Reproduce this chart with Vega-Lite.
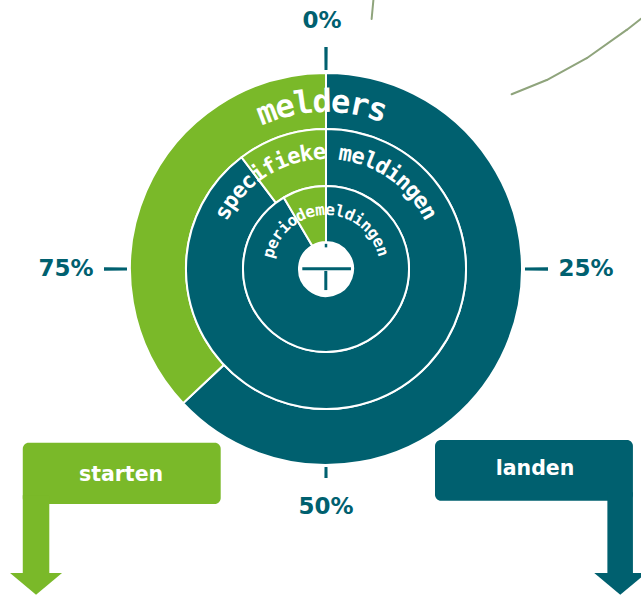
{
  "$schema": "https://vega.github.io/schema/vega-lite/v6.json",
  "width": 630,
  "height": 538,
  "autosize": "none",
  "padding": {"left": 11, "top": 0, "right": 0, "bottom": 57},
  "background": "white",
  "config": {"view": {"stroke": null}},
  "datasets": {
    "rings": [
      {"ring": "melders", "status": "landen", "share": 63},
      {"ring": "melders", "status": "starten", "share": 37},
      {"ring": "specifieke meldingen", "status": "landen", "share": 89.7},
      {"ring": "specifieke meldingen", "status": "starten", "share": 10.3},
      {"ring": "periodemeldingen", "status": "landen", "share": 91.5},
      {"ring": "periodemeldingen", "status": "starten", "share": 8.5}
    ],
    "ticks": [
      {"pct": 0, "label": "0%"},
      {"pct": 25, "label": "25%"},
      {"pct": 50, "label": "50%"},
      {"pct": 75, "label": "75%"}
    ],
    "outerLabel": [
      {"i": 0, "ch": "m"}, {"i": 1, "ch": "e"}, {"i": 2, "ch": "l"}, {"i": 3, "ch": "d"},
      {"i": 4, "ch": "e"}, {"i": 5, "ch": "r"}, {"i": 6, "ch": "s"}
    ],
    "middleLabel": [
      {"i": 0, "ch": "s"}, {"i": 1, "ch": "p"}, {"i": 2, "ch": "e"}, {"i": 3, "ch": "c"},
      {"i": 4, "ch": "i"}, {"i": 5, "ch": "f"}, {"i": 6, "ch": "i"}, {"i": 7, "ch": "e"},
      {"i": 8, "ch": "k"}, {"i": 9, "ch": "e"},
      {"i": 11, "ch": "m"}, {"i": 12, "ch": "e"}, {"i": 13, "ch": "l"}, {"i": 14, "ch": "d"},
      {"i": 15, "ch": "i"}, {"i": 16, "ch": "n"}, {"i": 17, "ch": "g"}, {"i": 18, "ch": "e"},
      {"i": 19, "ch": "n"}
    ],
    "innerLabel": [
      {"i": 0, "ch": "p"}, {"i": 1, "ch": "e"}, {"i": 2, "ch": "r"}, {"i": 3, "ch": "i"},
      {"i": 4, "ch": "o"}, {"i": 5, "ch": "d"}, {"i": 6, "ch": "e"}, {"i": 7, "ch": "m"},
      {"i": 8, "ch": "e"}, {"i": 9, "ch": "l"}, {"i": 10, "ch": "d"}, {"i": 11, "ch": "i"},
      {"i": 12, "ch": "n"}, {"i": 13, "ch": "g"}, {"i": 14, "ch": "e"}, {"i": 15, "ch": "n"}
    ]
  },
  "resolve": {"scale": {"theta": "independent", "angle": "independent"}},
  "layer": [
    {
      "data": {"values": [{"d": 1}]},
      "mark": {"type": "rule", "color": "#8FA47C", "strokeWidth": 2, "strokeCap": "round"},
      "encoding": {
        "x": {"datum": 24.3, "type": "quantitative", "scale": {"domain": [-161.538, 161.538], "nice": false, "zero": false}, "axis": null},
        "y": {"datum": 137.9, "type": "quantitative", "scale": {"domain": [-137.949, 137.949], "nice": false, "zero": false}, "axis": null},
        "x2": {"datum": 23.4},
        "y2": {"datum": 128.2}
      }
    },
    {
      "data": {"values": [{"d": 1}]},
      "mark": {"type": "rule", "color": "#8FA47C", "strokeWidth": 2, "strokeCap": "round"},
      "encoding": {
        "x": {"datum": 95.2, "type": "quantitative", "scale": {"domain": [-161.538, 161.538], "nice": false, "zero": false}, "axis": null},
        "y": {"datum": 89.6, "type": "quantitative", "scale": {"domain": [-137.949, 137.949], "nice": false, "zero": false}, "axis": null},
        "x2": {"datum": 113.2},
        "y2": {"datum": 96.9}
      }
    },
    {
      "data": {"values": [{"d": 1}]},
      "mark": {"type": "rule", "color": "#8FA47C", "strokeWidth": 2, "strokeCap": "round"},
      "encoding": {
        "x": {"datum": 113.2, "type": "quantitative", "scale": {"domain": [-161.538, 161.538], "nice": false, "zero": false}, "axis": null},
        "y": {"datum": 96.9, "type": "quantitative", "scale": {"domain": [-137.949, 137.949], "nice": false, "zero": false}, "axis": null},
        "x2": {"datum": 133.7},
        "y2": {"datum": 108.1}
      }
    },
    {
      "data": {"values": [{"d": 1}]},
      "mark": {"type": "rule", "color": "#8FA47C", "strokeWidth": 2, "strokeCap": "round"},
      "encoding": {
        "x": {"datum": 133.7, "type": "quantitative", "scale": {"domain": [-161.538, 161.538], "nice": false, "zero": false}, "axis": null},
        "y": {"datum": 108.1, "type": "quantitative", "scale": {"domain": [-137.949, 137.949], "nice": false, "zero": false}, "axis": null},
        "x2": {"datum": 154.2},
        "y2": {"datum": 122.6}
      }
    },
    {
      "data": {"values": [{"d": 1}]},
      "mark": {"type": "rule", "color": "#8FA47C", "strokeWidth": 2, "strokeCap": "round"},
      "encoding": {
        "x": {"datum": 154.2, "type": "quantitative", "scale": {"domain": [-161.538, 161.538], "nice": false, "zero": false}, "axis": null},
        "y": {"datum": 122.6, "type": "quantitative", "scale": {"domain": [-137.949, 137.949], "nice": false, "zero": false}, "axis": null},
        "x2": {"datum": 163},
        "y2": {"datum": 129.5}
      }
    },
    {
      "data": {"name": "rings"},
      "transform": [{"filter": "datum.ring === 'melders'"}],
      "mark": {"type": "arc", "radius": 196, "radius2": 140, "stroke": "white", "strokeWidth": 2},
      "encoding": {
        "theta": {"field": "share", "type": "quantitative", "stack": true, "scale": {"domain": [0, 100]}},
        "order": {"field": "status", "sort": "ascending"},
        "color": {"field": "status", "type": "nominal", "scale": {"domain": ["landen", "starten"], "range": ["#00606F", "#7AB929"]}, "legend": null}
      }
    },
    {
      "data": {"name": "rings"},
      "transform": [{"filter": "datum.ring === 'specifieke meldingen'"}],
      "mark": {"type": "arc", "radius": 140, "radius2": 83, "stroke": "white", "strokeWidth": 2},
      "encoding": {
        "theta": {"field": "share", "type": "quantitative", "stack": true, "scale": {"domain": [0, 100]}},
        "order": {"field": "status", "sort": "ascending"},
        "color": {"field": "status", "type": "nominal", "scale": {"domain": ["landen", "starten"], "range": ["#00606F", "#7AB929"]}, "legend": null}
      }
    },
    {
      "data": {"name": "rings"},
      "transform": [{"filter": "datum.ring === 'periodemeldingen'"}],
      "mark": {"type": "arc", "radius": 83, "radius2": 27, "stroke": "white", "strokeWidth": 2},
      "encoding": {
        "theta": {"field": "share", "type": "quantitative", "stack": true, "scale": {"domain": [0, 100]}},
        "order": {"field": "status", "sort": "ascending"},
        "color": {"field": "status", "type": "nominal", "scale": {"domain": ["landen", "starten"], "range": ["#00606F", "#7AB929"]}, "legend": null}
      }
    },
    {
      "data": {"name": "ticks"},
      "transform": [{"filter": "datum.pct != 50"}],
      "mark": {"type": "arc", "radius": 222, "radius2": 199, "thetaOffset": -0.0075, "theta2Offset": 0.0075, "color": "#00606F"},
      "encoding": {
        "theta": {"field": "pct", "type": "quantitative", "stack": null, "scale": {"domain": [0, 100]}},
        "theta2": {"field": "pct"}
      }
    },
    {
      "data": {"name": "ticks"},
      "transform": [{"filter": "datum.pct == 50"}],
      "mark": {"type": "arc", "radius": 209, "radius2": 198, "thetaOffset": -0.0075, "theta2Offset": 0.0075, "color": "#00606F"},
      "encoding": {
        "theta": {"field": "pct", "type": "quantitative", "stack": null, "scale": {"domain": [0, 100]}},
        "theta2": {"field": "pct"}
      }
    },
    {
      "data": {"values": [{"d": 1}]},
      "mark": {"type": "rule", "color": "#00606F", "strokeWidth": 3},
      "encoding": {
        "x": {"datum": -12.15, "type": "quantitative", "scale": {"domain": [-161.538, 161.538], "nice": false, "zero": false}, "axis": null},
        "y": {"datum": 0.1, "type": "quantitative", "scale": {"domain": [-137.949, 137.949], "nice": false, "zero": false}, "axis": null},
        "x2": {"datum": 12.8}
      }
    },
    {
      "data": {"values": [{"d": 1}]},
      "mark": {"type": "rule", "color": "#00606F", "strokeWidth": 3},
      "encoding": {
        "x": {"datum": -0.1, "type": "quantitative", "scale": {"domain": [-161.538, 161.538], "nice": false, "zero": false}, "axis": null},
        "y": {"datum": -1.0, "type": "quantitative", "scale": {"domain": [-137.949, 137.949], "nice": false, "zero": false}, "axis": null},
        "y2": {"datum": -10.8}
      }
    },
    {
      "data": {"values": [{"d": 1}]},
      "mark": {"type": "rule", "color": "#00606F", "strokeWidth": 2.5},
      "encoding": {
        "x": {"datum": 0, "type": "quantitative", "scale": {"domain": [-161.538, 161.538], "nice": false, "zero": false}, "axis": null},
        "y": {"datum": 12.9, "type": "quantitative", "scale": {"domain": [-137.949, 137.949], "nice": false, "zero": false}, "axis": null},
        "y2": {"datum": 11.1}
      }
    },
    {
      "data": {"name": "ticks"},
      "transform": [{"filter": "datum.pct == 0"}],
      "mark": {"type": "text", "radius": 248, "font": "DejaVu Sans", "fontWeight": "bold", "fontSize": 23, "color": "#00606F", "align": "center", "baseline": "middle", "dx": -4},
      "encoding": {
        "theta": {"field": "pct", "type": "quantitative", "stack": null, "scale": {"domain": [0, 100]}},
        "text": {"field": "label"}
      }
    },
    {
      "data": {"name": "ticks"},
      "transform": [{"filter": "datum.pct == 50"}],
      "mark": {"type": "text", "radius": 238, "font": "DejaVu Sans", "fontWeight": "bold", "fontSize": 23, "color": "#00606F", "align": "center", "baseline": "middle"},
      "encoding": {
        "theta": {"field": "pct", "type": "quantitative", "stack": null, "scale": {"domain": [0, 100]}},
        "text": {"field": "label"}
      }
    },
    {
      "data": {"name": "ticks"},
      "transform": [{"filter": "datum.pct == 25 || datum.pct == 75"}],
      "mark": {"type": "text", "radius": 260, "font": "DejaVu Sans", "fontWeight": "bold", "fontSize": 23, "color": "#00606F", "align": "center", "baseline": "middle"},
      "encoding": {
        "theta": {"field": "pct", "type": "quantitative", "stack": null, "scale": {"domain": [0, 100]}},
        "text": {"field": "label"}
      }
    },
    {
      "data": {"name": "outerLabel"},
      "mark": {"type": "text", "radius": 167, "font": "DejaVu Sans Mono", "fontWeight": "bold", "fontSize": 32, "color": "white", "align": "center", "baseline": "middle"},
      "encoding": {
        "theta": {"field": "i", "type": "quantitative", "stack": null, "scale": {"domain": [0, 6], "range": [-0.3613, 0.3142]}},
        "angle": {"field": "i", "type": "quantitative", "scale": {"domain": [0, 6], "range": [-20.7, 18]}},
        "text": {"field": "ch"}
      }
    },
    {
      "data": {"name": "middleLabel"},
      "mark": {"type": "text", "radius": 117, "font": "DejaVu Sans Mono", "fontWeight": "bold", "fontSize": 22, "color": "white", "align": "center", "baseline": "middle"},
      "encoding": {
        "theta": {"field": "i", "type": "quantitative", "stack": null, "scale": {"domain": [0, 19], "range": [-1.0647, 1.0647]}},
        "angle": {"field": "i", "type": "quantitative", "scale": {"domain": [0, 19], "range": [-61, 61]}},
        "text": {"field": "ch"}
      }
    },
    {
      "data": {"name": "innerLabel"},
      "mark": {"type": "text", "radius": 59, "font": "DejaVu Sans Mono", "fontWeight": "bold", "fontSize": 16, "color": "white", "align": "center", "baseline": "middle"},
      "encoding": {
        "theta": {"field": "i", "type": "quantitative", "stack": null, "scale": {"domain": [0, 15], "range": [-1.2985, 1.2654]}},
        "angle": {"field": "i", "type": "quantitative", "scale": {"domain": [0, 15], "range": [-74.4, 72.5]}},
        "text": {"field": "ch"}
      }
    },
    {
      "data": {"values": [{"status": "starten"}]},
      "mark": {"type": "rect", "cornerRadius": 6},
      "encoding": {
        "x": {"datum": -155.5, "type": "quantitative", "scale": {"domain": [-161.538, 161.538], "nice": false, "zero": false}, "axis": null},
        "x2": {"datum": -54.0},
        "y": {"datum": -89.1, "type": "quantitative", "scale": {"domain": [-137.949, 137.949], "nice": false, "zero": false}, "axis": null},
        "y2": {"datum": -120.5},
        "color": {"field": "status", "type": "nominal", "scale": {"domain": ["landen", "starten"], "range": ["#00606F", "#7AB929"]}, "legend": null}
      }
    },
    {
      "data": {"values": [{"status": "starten"}]},
      "mark": {"type": "rect"},
      "encoding": {
        "x": {"datum": -155.5, "type": "quantitative", "scale": {"domain": [-161.538, 161.538], "nice": false, "zero": false}, "axis": null},
        "x2": {"datum": -141.9},
        "y": {"datum": -116.0, "type": "quantitative", "scale": {"domain": [-137.949, 137.949], "nice": false, "zero": false}, "axis": null},
        "y2": {"datum": -156.5},
        "color": {"field": "status", "type": "nominal", "scale": {"domain": ["landen", "starten"], "range": ["#00606F", "#7AB929"]}, "legend": null}
      }
    },
    {
      "data": {"values": [{"status": "starten"}]},
      "mark": {"type": "point", "shape": "M-1,-0.42L1,-0.42L0,0.42Z", "size": 2704, "filled": true, "opacity": 1, "strokeWidth": 0},
      "encoding": {
        "x": {"datum": -148.7, "type": "quantitative", "scale": {"domain": [-161.538, 161.538], "nice": false, "zero": false}, "axis": null},
        "y": {"datum": -161.5, "type": "quantitative", "scale": {"domain": [-137.949, 137.949], "nice": false, "zero": false}, "axis": null},
        "color": {"field": "status", "type": "nominal", "scale": {"domain": ["landen", "starten"], "range": ["#00606F", "#7AB929"]}, "legend": null}
      }
    },
    {
      "data": {"values": [{"status": "starten"}]},
      "mark": {"type": "text", "font": "DejaVu Sans", "fontWeight": "bold", "fontSize": 20.5, "color": "white", "align": "center", "baseline": "middle"},
      "encoding": {
        "x": {"datum": -105.1, "type": "quantitative", "scale": {"domain": [-161.538, 161.538], "nice": false, "zero": false}, "axis": null},
        "y": {"datum": -105.6, "type": "quantitative", "scale": {"domain": [-137.949, 137.949], "nice": false, "zero": false}, "axis": null},
        "text": {"field": "status"}
      }
    },
    {
      "data": {"values": [{"status": "landen"}]},
      "mark": {"type": "rect", "cornerRadius": 6},
      "encoding": {
        "x": {"datum": 55.9, "type": "quantitative", "scale": {"domain": [-161.538, 161.538], "nice": false, "zero": false}, "axis": null},
        "x2": {"datum": 157.4},
        "y": {"datum": -87.7, "type": "quantitative", "scale": {"domain": [-137.949, 137.949], "nice": false, "zero": false}, "axis": null},
        "y2": {"datum": -118.8},
        "color": {"field": "status", "type": "nominal", "scale": {"domain": ["landen", "starten"], "range": ["#00606F", "#7AB929"]}, "legend": null}
      }
    },
    {
      "data": {"values": [{"status": "landen"}]},
      "mark": {"type": "rect"},
      "encoding": {
        "x": {"datum": 144.3, "type": "quantitative", "scale": {"domain": [-161.538, 161.538], "nice": false, "zero": false}, "axis": null},
        "x2": {"datum": 157.4},
        "y": {"datum": -114.5, "type": "quantitative", "scale": {"domain": [-137.949, 137.949], "nice": false, "zero": false}, "axis": null},
        "y2": {"datum": -156.5},
        "color": {"field": "status", "type": "nominal", "scale": {"domain": ["landen", "starten"], "range": ["#00606F", "#7AB929"]}, "legend": null}
      }
    },
    {
      "data": {"values": [{"status": "landen"}]},
      "mark": {"type": "point", "shape": "M-1,-0.42L1,-0.42L0,0.42Z", "size": 2704, "filled": true, "opacity": 1, "strokeWidth": 0},
      "encoding": {
        "x": {"datum": 150.9, "type": "quantitative", "scale": {"domain": [-161.538, 161.538], "nice": false, "zero": false}, "axis": null},
        "y": {"datum": -161.5, "type": "quantitative", "scale": {"domain": [-137.949, 137.949], "nice": false, "zero": false}, "axis": null},
        "color": {"field": "status", "type": "nominal", "scale": {"domain": ["landen", "starten"], "range": ["#00606F", "#7AB929"]}, "legend": null}
      }
    },
    {
      "data": {"values": [{"status": "landen"}]},
      "mark": {"type": "text", "font": "DejaVu Sans", "fontWeight": "bold", "fontSize": 20.5, "color": "white", "align": "center", "baseline": "middle"},
      "encoding": {
        "x": {"datum": 107.2, "type": "quantitative", "scale": {"domain": [-161.538, 161.538], "nice": false, "zero": false}, "axis": null},
        "y": {"datum": -102.8, "type": "quantitative", "scale": {"domain": [-137.949, 137.949], "nice": false, "zero": false}, "axis": null},
        "text": {"field": "status"}
      }
    }
  ]
}
